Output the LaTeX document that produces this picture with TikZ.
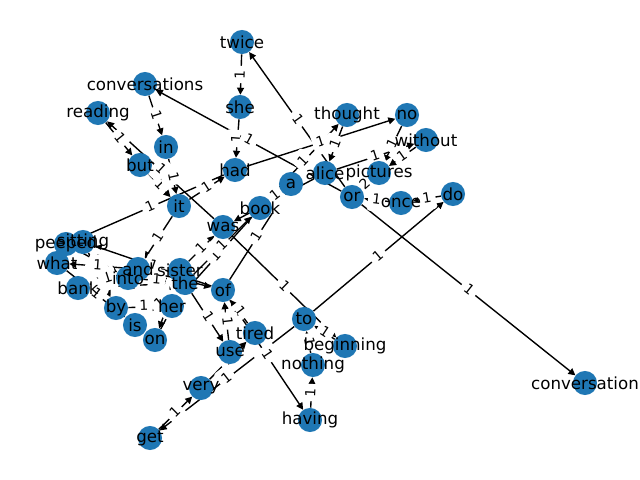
\documentclass[tikz,border=0pt]{standalone}
\usepackage{fontspec}
\setmainfont{DejaVu Sans}
\usetikzlibrary{arrows.meta}
\definecolor{tabblue}{HTML}{1F77B4}
\pgfdeclarelayer{bglayer}
\pgfdeclarelayer{edgelayer}
\pgfdeclarelayer{elabel}
\pgfdeclarelayer{front}
\pgfsetlayers{bglayer,edgelayer,elabel,main,front}
\newcommand{\lnkE}[3]{%
  \begin{pgfonlayer}{edgelayer}\draw[lnk] (#1) -- (#2);\end{pgfonlayer}%
  \begin{pgfonlayer}{elabel}\path (#1) -- node[elab]{#3} (#2);\end{pgfonlayer}}
\newcommand{\vtxN}[3]{%
  \node[vtx] (#1) at (#2) {};%
  \begin{pgfonlayer}{front}\node[vtxtxt] at (#2) {#3};\end{pgfonlayer}}
\begin{document}
\begin{tikzpicture}[x=0.72pt,y=-0.72pt,
  vtx/.style={circle,fill=tabblue,draw=none,minimum size=17.32pt,inner sep=0pt},
  vtxtxt/.style={inner sep=0pt,font=\fontsize{12}{14}\selectfont,text=black},
  lnk/.style={line width=1pt,black,-{Triangle[length=5pt,width=5pt]}},
  elab/.style={sloped,midway,fill=white,rounded corners=2pt,inner sep=3pt,
    text height=8pt,text depth=2.5pt,font=\fontsize{10}{12}\selectfont}]
\begin{pgfonlayer}{bglayer}
\fill[white] (0,0) rectangle (640,480);
\end{pgfonlayer}
\useasboundingbox (0,0) rectangle (640,480);
\vtxN{ntwice}{242,42}{twice}
\vtxN{nshe}{240,107}{she}
\vtxN{nconversations}{145,84}{conversations}
\vtxN{nreading}{98,113}{reading}
\vtxN{nthought}{347,115}{thought}
\vtxN{nno}{407,115}{no}
\vtxN{nwithout}{426,140}{without}
\vtxN{nin}{166,147}{in}
\vtxN{nbut}{140,165}{but}
\vtxN{nhad}{235,170}{had}
\vtxN{nalice}{325,173}{alice}
\vtxN{npictures}{379,173}{pictures}
\vtxN{na}{291,184}{a}
\vtxN{nor}{352,197}{or}
\vtxN{nonce}{401,203}{once}
\vtxN{ndo}{453,194}{do}
\vtxN{nit}{179,206}{it}
\vtxN{nbook}{260,208}{book}
\vtxN{nwas}{223,227}{was}
\vtxN{nsitting}{83,242}{sitting}
\vtxN{npeeped}{66,244}{peeped}
\vtxN{nwhat}{57,263}{what}
\vtxN{nand}{138,269}{and}
\vtxN{ninto}{128,278}{into}
\vtxN{nsister}{180,270}{sister}
\vtxN{nthe}{185,283}{the}
\vtxN{nof}{223,290}{of}
\vtxN{nbank}{78,288}{bank}
\vtxN{nby}{116,308}{by}
\vtxN{nher}{172,306}{her}
\vtxN{nis}{135,325}{is}
\vtxN{non}{155,340}{on}
\vtxN{nto}{304,319}{to}
\vtxN{nuse}{230,352}{use}
\vtxN{ntired}{255,333}{tired}
\vtxN{nbeginning}{345,346}{beginning}
\vtxN{nnothing}{313,365}{nothing}
\vtxN{nvery}{201,388}{very}
\vtxN{nget}{150,438}{get}
\vtxN{nhaving}{310,420}{having}
\vtxN{nconversation}{585,383}{conversation}
\lnkE{nalice}{nwas}{1}
\lnkE{nwas}{nbeginning}{1}
\lnkE{nbeginning}{nto}{1}
\lnkE{nto}{nget}{1}
\lnkE{nget}{nvery}{1}
\lnkE{nvery}{ntired}{1}
\lnkE{ntired}{nof}{1}
\lnkE{nof}{nsitting}{1}
\lnkE{nsitting}{nby}{1}
\lnkE{nby}{nher}{1}
\lnkE{nher}{nsister}{2}
\lnkE{nsister}{non}{1}
\lnkE{non}{nthe}{1}
\lnkE{nthe}{nbank}{1}
\lnkE{nbank}{nand}{1}
\lnkE{nand}{nof}{1}
\lnkE{nof}{nhaving}{1}
\lnkE{nhaving}{nnothing}{1}
\lnkE{nnothing}{nto}{1}
\lnkE{nto}{ndo}{1}
\lnkE{ndo}{nonce}{1}
\lnkE{nonce}{nor}{1}
\lnkE{nor}{ntwice}{1}
\lnkE{ntwice}{nshe}{1}
\lnkE{nshe}{nhad}{1}
\lnkE{nhad}{npeeped}{1}
\lnkE{npeeped}{ninto}{1}
\lnkE{ninto}{nthe}{1}
\lnkE{nthe}{nbook}{1}
\lnkE{nbook}{nher}{1}
\lnkE{nsister}{nwas}{1}
\lnkE{nwas}{nreading}{1}
\lnkE{nreading}{nbut}{1}
\lnkE{nbut}{nit}{1}
\lnkE{nit}{nhad}{1}
\lnkE{nhad}{nno}{1}
\lnkE{nno}{npictures}{1}
\lnkE{npictures}{nor}{2}
\lnkE{nor}{nconversations}{1}
\lnkE{nconversations}{nin}{1}
\lnkE{nin}{nit}{1}
\lnkE{nit}{nand}{1}
\lnkE{nand}{nwhat}{1}
\lnkE{nwhat}{nis}{1}
\lnkE{nis}{nthe}{1}
\lnkE{nthe}{nuse}{1}
\lnkE{nuse}{nof}{1}
\lnkE{nof}{na}{1}
\lnkE{na}{nbook}{1}
\lnkE{nbook}{nthought}{1}
\lnkE{nthought}{nalice}{1}
\lnkE{nalice}{nwithout}{1}
\lnkE{nwithout}{npictures}{1}
\lnkE{nor}{nconversation}{1}
\end{tikzpicture}
\end{document}
